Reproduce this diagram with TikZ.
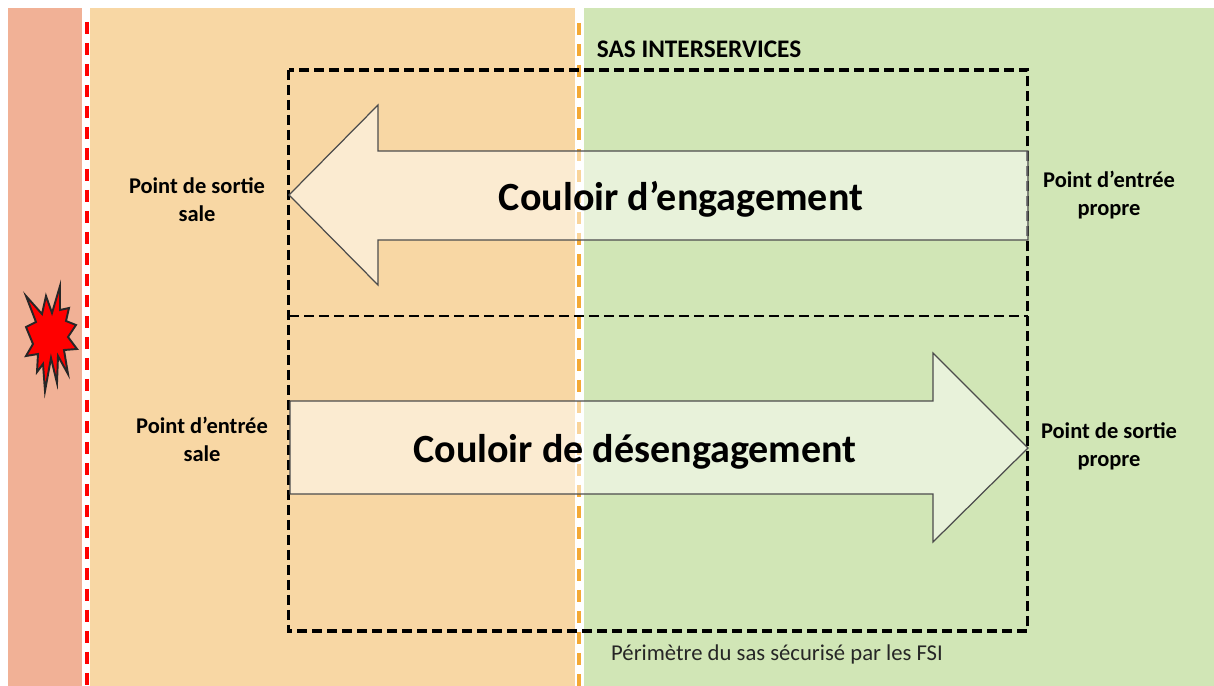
\documentclass[tikz,border=0pt]{standalone}
\usepackage{fontspec}
\setmainfont{Carlito}

\tikzset{
    limit/.style={line width=1.8pt, dash pattern=on 0.24cm off 0.18cm},
    perimeter/.style={black, line width=1.5pt, dash pattern=on 0.2cm off 0.1cm},
    corridor/.style={draw=black!70, line width=0.7pt, fill=white, fill opacity=0.5},
    pointlabel/.style={align=center, font=\fontsize{12.8pt}{15.9pt}\selectfont\bfseries},
    corridorlabel/.style={font=\fontsize{22.8pt}{26pt}\selectfont\bfseries}
}
\definecolor{hotzone}{HTML}{F1B196}
\definecolor{dirtyzone}{HTML}{F8D7A4}
\definecolor{cleanzone}{HTML}{D1E6B6}
\definecolor{cleanlimit}{HTML}{F3A935}

\begin{document}
\begin{tikzpicture}[x=0.02cm, y=-0.02cm]
    \useasboundingbox (0, 0) rectangle (1214, 686);

    \fill[hotzone] (8, 8) rectangle (82, 686);
    \fill[dirtyzone] (90, 8) rectangle (575, 686);
    \fill[cleanzone] (584, 8) rectangle (1214, 686);

    \draw[limit, red] (87, 22) -- (87, 686);
    \draw[limit, cleanlimit] (579, 23) -- (579, 686);

    \draw[fill=red, line width=1.1pt, draw=black!85]
        (26, 296) -- (42, 314) -- (46, 296) -- (52, 313) -- (60, 286) -- (60, 310)
        -- (69, 308) -- (66, 321) -- (76, 325) -- (68, 337) -- (77, 349) -- (64, 350)
        -- (68, 374) -- (58, 356) -- (57, 383) -- (51, 358) -- (45, 391) -- (43, 364)
        -- (37, 372) -- (38, 354) -- (26, 356) -- (33, 344) -- (26, 327) -- (36, 322) -- cycle;

    \draw[perimeter, line width=1.9pt] (288.5, 70) rectangle (1027.5, 631);
    \draw[perimeter] (289, 316) -- (1028, 316);

    \draw[corridor] (289, 195) -- (378, 105) -- (378, 151) -- (1028, 151)
        -- (1028, 240) -- (378, 240) -- (378, 285) -- cycle;
    \draw[corridor] (290, 401) -- (933, 401) -- (933, 353) -- (1028, 448)
        -- (933, 542) -- (933, 494) -- (290, 494) -- cycle;

    \node[corridorlabel] (engagement) at (681, 199) {Couloir d’engagement};
    \node[corridorlabel] (desengagement) at (635, 452) {Couloir de désengagement};

    \node[pointlabel] (sortiesale) at (197, 200) {Point de sortie\\sale};
    \node[pointlabel] (entreepropre) at (1109, 195) {Point d’entrée\\propre};
    \node[pointlabel] (entreesale) at (202, 439) {Point d’entrée\\sale};
    \node[pointlabel] (sortiepropre) at (1109, 446) {Point de sortie\\propre};

    \node[font=\fontsize{14.4pt}{17pt}\selectfont\bfseries] (sas) at (699, 49) {SAS INTERSERVICES};
    \node[font=\fontsize{12.9pt}{15pt}\selectfont, text=black!85] (perimetre) at (777, 654) {Périmètre du sas sécurisé par les FSI};
\end{tikzpicture}
\end{document}
